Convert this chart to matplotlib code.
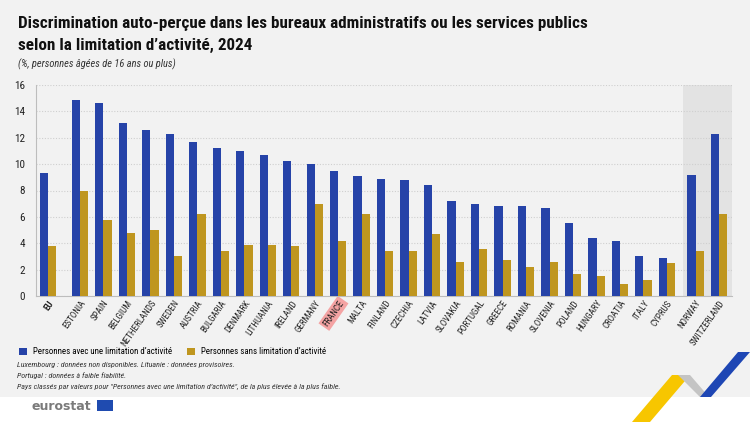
import matplotlib.pyplot as plt
import matplotlib.patches as mpatches
import numpy as np

# data (%)
countries = ['EU', 'ESTONIA', 'SPAIN', 'BELGIUM', 'NETHERLANDS', 'SWEDEN', 'AUSTRIA',
             'BULGARIA', 'DENMARK', 'LITHUANIA', 'IRELAND', 'GERMANY', 'FRANCE', 'MALTA',
             'FINLAND', 'CZECHIA', 'LATVIA', 'SLOVAKIA', 'PORTUGAL', 'GREECE', 'ROMANIA',
             'SLOVENIA', 'POLAND', 'HUNGARY', 'CROATIA', 'ITALY', 'CYPRUS', 'NORWAY',
             'SWITZERLAND']
with_limit = [9.3, 14.9, 14.6, 13.1, 12.6, 12.3, 11.7, 11.2, 11.0, 10.7, 10.2, 10.0, 9.5,
              9.1, 8.9, 8.8, 8.4, 7.2, 7.0, 6.8, 6.8, 6.7, 5.5, 4.4, 4.2, 3.0, 2.9, 9.2,
              12.3]
without_limit = [3.8, 8.0, 5.8, 4.8, 5.0, 3.0, 6.2, 3.4, 3.9, 3.9, 3.8, 7.0, 4.2, 6.2,
                 3.4, 3.4, 4.7, 2.6, 3.6, 2.7, 2.2, 2.6, 1.7, 1.5, 0.9, 1.2, 2.5, 3.4, 6.2]
yticks = [0, 2, 4, 6, 8, 10, 12, 14, 16]

blue = '#2643a8'
gold = '#bf961f'
bg = '#f2f2f2'
cond = ['Liberation Sans Narrow', 'Roboto Condensed', 'Roboto', 'DejaVu Sans']

# group positions: EU, then 26 EU countries, then EFTA with small gaps
pos = [0.0]
for i in range(26):
    pos.append(1.35 + i)
pos.append(pos[-1] + 1.22)
pos.append(pos[-1] + 1.0)
pos = np.array(pos)

fig = plt.figure(figsize=(7.5, 4.22), dpi=100)
fig.patch.set_facecolor('white')
fig.patches.append(mpatches.Rectangle((0, 25 / 422), 1, 1, transform=fig.transFigure,
                                      facecolor=bg, edgecolor='none', zorder=-10))

ax = fig.add_axes([36 / 750, 1 - 296 / 422, (732 - 36) / 750, (296 - 85) / 422])
ax.set_facecolor(bg)

w = 0.35
ax.axvspan(pos[-2] - 0.55, pos[-1] + 0.55, color='#e3e3e3', zorder=0, lw=0)
ax.bar(pos - w / 2, with_limit, w, color=blue, zorder=3,
       label="Personnes avec une limitation d\u2019activit\u00e9")
ax.bar(pos + w / 2, without_limit, w, color=gold, zorder=3,
       label="Personnes sans limitation d\u2019activit\u00e9")

ax.set_ylim(0, 16)
ax.set_xlim(-0.52, pos[-1] + 0.55)
ax.set_yticks(yticks)
ax.yaxis.grid(True, color='#cfcfcf', linestyle=(0, (1, 1.5)), linewidth=0.8, zorder=1)
ax.tick_params(axis='y', length=0, labelsize=8, pad=8, colors='#222222')
ax.tick_params(axis='x', length=0, pad=2)
for s in ['top', 'right']:
    ax.spines[s].set_visible(False)
ax.spines['left'].set_color('#bdbdbd')
ax.spines['bottom'].set_color('#bdbdbd')
for lab in ax.get_yticklabels():
    lab.set_family(cond)

ax.set_xticks(pos)
ax.set_xticklabels(countries, rotation=55, ha='right', va='top', rotation_mode='anchor',
                   fontsize=6.5, family=cond, color='#222222')
for lab in ax.get_xticklabels():
    if lab.get_text() == 'EU':
        lab.set_fontweight('bold')
    if lab.get_text() == 'FRANCE':
        lab.set_bbox(dict(facecolor='#f4a3a3', edgecolor='none', pad=1.5))

fig.text(18 / 750, 1 - 28 / 422,
         "Discrimination auto-per\u00e7ue dans les bureaux administratifs ou les services publics",
         fontsize=12.3, fontweight='bold', family=cond, color='#111111')
fig.text(18 / 750, 1 - 50 / 422, "selon la limitation d\u2019activit\u00e9, 2024",
         fontsize=12.3, fontweight='bold', family=cond, color='#111111')
fig.text(18 / 750, 1 - 67 / 422, "(%, personnes \u00e2g\u00e9es de 16 ans ou plus)",
         fontsize=7.5, style='italic', family=cond, color='#333333')

leg = fig.legend(loc='center left', bbox_to_anchor=(11 / 750, 1 - 352 / 422), ncol=2,
                 frameon=False, handlelength=0.9, handleheight=0.9,
                 columnspacing=1.6, handletextpad=0.7, prop={'family': cond, 'size': 6.4})

notes = ["Luxembourg : donn\u00e9es non disponibles. Lituanie : donn\u00e9es provisoires.",
         "Portugal : donn\u00e9es \u00e0 faible fiabilit\u00e9.",
         "Pays class\u00e9s par valeurs pour \"Personnes avec une limitation d\u2019activit\u00e9\", "
         "de la plus \u00e9lev\u00e9e \u00e0 la plus faible."]
for k, t in enumerate(notes):
    fig.text(17 / 750, 1 - (367 + k * 11) / 422, t, fontsize=5.8, style='italic',
             family=cond, color='#333333')

# eurostat logo
fig.text(32 / 750, 1 - 406 / 422, 'eurostat', fontsize=9, fontweight='bold',
         color='#7a7a7a', family=['DejaVu Sans'], va='center')
fig.patches.append(mpatches.Rectangle((97 / 750, 1 - 411 / 422), 16 / 750, 11 / 422,
                                      transform=fig.transFigure, facecolor='#1f4bb0',
                                      edgecolor='none'))

# decorative ribbon bottom right
def px(pts):
    return [(x / 750, 1 - y / 422) for x, y in pts]

fig.patches.append(mpatches.Polygon(px([(672, 375), (690, 375), (650, 422), (632, 422)]),
                                    transform=fig.transFigure, facecolor='#f7c600',
                                    edgecolor='none'))
fig.patches.append(mpatches.Polygon(px([(690, 375), (678, 375), (700, 397), (709, 397)]),
                                    transform=fig.transFigure, facecolor='#c4c4c4',
                                    edgecolor='none'))
fig.patches.append(mpatches.Polygon(px([(700, 397), (711, 397), (750, 352), (738, 352)]),
                                    transform=fig.transFigure, facecolor='#1e46b4',
                                    edgecolor='none'))

fig.savefig('out.png', dpi=100, facecolor=fig.get_facecolor())
